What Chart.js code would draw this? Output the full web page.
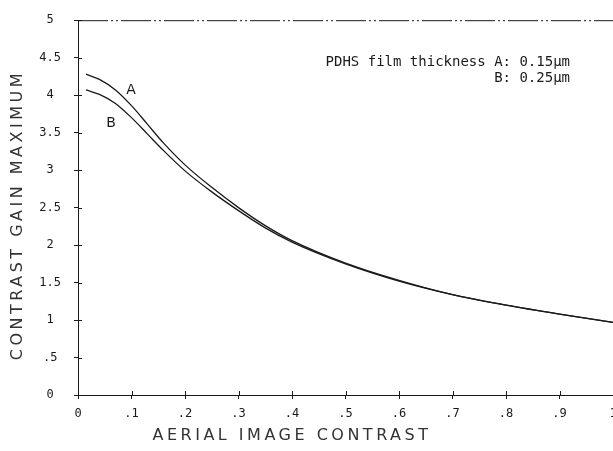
<!DOCTYPE html>
<html>
<head>
<meta charset="utf-8">
<script src="https://cdn.jsdelivr.net/npm/chart.js@4.4.0/dist/chart.umd.min.js"></script>
<style>
    html, body { margin: 0; padding: 0; background: #fff; }
    #wrap { width: 613px; height: 451px; }
</style>
</head>
<body>
<div id="wrap"><canvas id="gain-chart" width="613" height="451"></canvas></div>
<script>
// values
const contrast = [0.015, 0.04, 0.07, 0.1, 0.13, 0.16, 0.2, 0.25, 0.3, 0.35, 0.4, 0.5, 0.6, 0.7, 0.8, 0.9, 1.0];
const gainA = [4.28, 4.21, 4.07, 3.86, 3.61, 3.36, 3.07, 2.77, 2.5, 2.26, 2.06, 1.76, 1.53, 1.34, 1.2, 1.08, 0.97];
const gainB = [4.07, 4.01, 3.89, 3.7, 3.48, 3.26, 2.99, 2.71, 2.46, 2.23, 2.04, 1.75, 1.52, 1.34, 1.2, 1.08, 0.97];

const xTickLabels = ['0', '.1', '.2', '.3', '.4', '.5', '.6', '.7', '.8', '.9', '1'];
const yTickLabels = ['0', '.5', '1', '1.5', '2', '2.5', '3', '3.5', '4', '4.5', '5'];

const xTitle = 'AERIAL IMAGE CONTRAST';
const yTitle = 'CONTRAST GAIN MAXIMUM';
const noteLines = ['PDHS film thickness A: 0.15\u00b5m', 'B: 0.25\u00b5m'];
const seriesNames = ['A', 'B'];

const ink = '#1a1a1a';
const tickFont = { family: '"DejaVu Sans Mono"', size: 12 };
const plotDash = [30, 3, 2, 3, 2, 3];

const decor = {
    id: 'decor',
    afterDraw(chart) {
        const { ctx, chartArea: a, scales: { x, y } } = chart;
        ctx.save();
        ctx.strokeStyle = ink;
        ctx.fillStyle = ink;
        ctx.lineWidth = 1;

        // dash-dot frame line on top
        ctx.setLineDash(plotDash);
        ctx.beginPath();
        ctx.moveTo(a.left, a.top + 0.5);
        ctx.lineTo(a.right, a.top + 0.5);
        ctx.stroke();
        ctx.setLineDash([]);

        // inner half of the cross ticks
        ctx.beginPath();
        x.ticks.forEach(t => {
            const px = Math.round(x.getPixelForValue(t.value)) + 0.5;
            ctx.moveTo(px, a.bottom);
            ctx.lineTo(px, a.bottom - 4);
        });
        y.ticks.forEach(t => {
            const py = Math.round(y.getPixelForValue(t.value)) + 0.5;
            ctx.moveTo(a.left, py);
            ctx.lineTo(a.left + 4, py);
        });
        ctx.stroke();

        // curve labels
        ctx.font = '14px "DejaVu Sans"';
        ctx.textAlign = 'center';
        ctx.textBaseline = 'middle';
        ctx.fillText(seriesNames[0], x.getPixelForValue(0.099), y.getPixelForValue(4.07));
        ctx.fillText(seriesNames[1], x.getPixelForValue(0.062), y.getPixelForValue(3.63));

        // note
        ctx.font = '14px "DejaVu Sans Mono"';
        ctx.textAlign = 'right';
        ctx.fillText(noteLines[0], 570, 62);
        ctx.fillText(noteLines[1], 570, 78);

        // axis titles
        ctx.font = '16px "DejaVu Sans"';
        ctx.letterSpacing = '3.5px';
        ctx.fillStyle = '#333';
        ctx.textAlign = 'center';
        ctx.fillText(xTitle, x.getPixelForValue(0.4), 436);
        ctx.translate(18, y.getPixelForValue(2.4));
        ctx.rotate(-Math.PI / 2);
        ctx.fillText(yTitle, 0, 0);
        ctx.restore();
    }
};

const series = (gain) => contrast.map((c, i) => ({ x: c, y: gain[i] }));

new Chart(document.getElementById('gain-chart').getContext('2d'), {
    type: 'line',
    data: {
        datasets: [{
            label: seriesNames[0],
            data: series(gainA),
            borderColor: ink,
            borderWidth: 1.3,
            pointRadius: 0,
            cubicInterpolationMode: 'monotone',
        }, {
            label: seriesNames[1],
            data: series(gainB),
            borderColor: ink,
            borderWidth: 1.3,
            pointRadius: 0,
            cubicInterpolationMode: 'monotone',
        }]
    },
    options: {
        responsive: false,
        animation: false,
        layout: { padding: { top: 20, right: 0, left: 0, bottom: 0 } },
        plugins: {
            legend: { display: false },
            tooltip: { enabled: false },
            title: { display: false },
        },
        scales: {
            x: {
                type: 'linear',
                min: 0,
                max: 1,
                afterFit(s) { s.height = 56; s.paddingLeft = 0; s.paddingRight = 0; },
                ticks: {
                    stepSize: 0.1,
                    autoSkip: false,
                    maxRotation: 0,
                    padding: 8,
                    color: ink,
                    font: tickFont,
                    callback: (v, i) => xTickLabels[i],
                },
                grid: { drawOnChartArea: false, tickLength: 4, color: ink },
                border: { color: ink, dash: plotDash },
            },
            y: {
                type: 'linear',
                min: 0,
                max: 5,
                afterFit(s) { s.width = 78; },
                ticks: {
                    stepSize: 0.5,
                    autoSkip: false,
                    padding: 13,
                    crossAlign: 'center',
                    color: ink,
                    font: tickFont,
                    callback: (v, i) => yTickLabels[i],
                },
                grid: { drawOnChartArea: false, tickLength: 4, color: ink },
                border: { color: ink },
            }
        }
    },
    plugins: [decor]
});
</script>
</body>
</html>
